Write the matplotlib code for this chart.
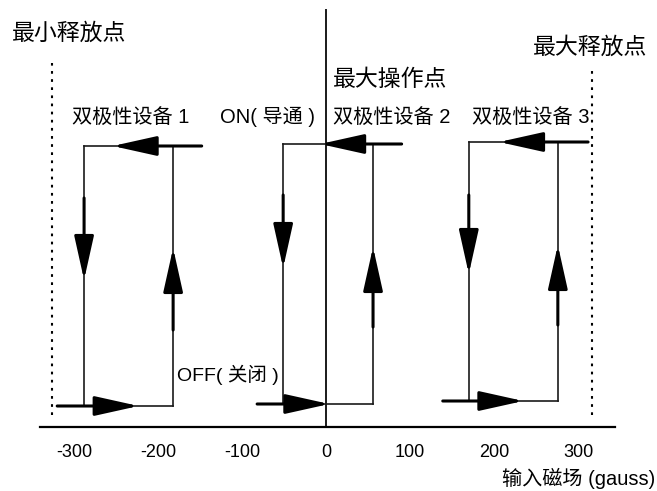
import numpy as np
import matplotlib
matplotlib.use('Agg')
import matplotlib.pyplot as plt

plt.rcParams['font.family'] = ['Liberation Sans', 'Noto Sans CJK SC', 'DejaVu Sans']

# x in gauss, y in arbitrary output units (0 = axis line)
tick_vals = [-300, -200, -100, 0, 100, 200, 300]
tick_labels = ['-300', '-200', '-100', '0', '100', '200', '300']

loop_names = ['双极性设备 1', '双极性设备 2', '双极性设备 3']
loop_left = [-288, -51, 170]
loop_right = [-182, 56, 276]
loop_top_end = [-148, 90, 312]
loop_bot_start = [-320, -82, 139]
on_level = [281, 283, 285]
off_level = [21, 23, 26]

# arrow tips / tails
top_arrow_tip = [-254, -7, 206]
bot_arrow_tip = [-223, 4, 235]
left_arrow_tail = [229, 232, 232]
left_arrow_tip = [147, 159, 153]
right_arrow_tail = [97, 100, 102]
right_arrow_tip = [179, 180, 182]

release_min = -326
release_max = 317
release_top = [364, 359]
zero_line_top = 417

W, H = 657, 491
fig = plt.figure(figsize=(W / 100, H / 100), dpi=100)
ax = fig.add_axes([40 / W, (H - 427) / H, 575 / W, 427 / H])
ax.set_xlim((40 - 326) / 0.84, (615 - 326) / 0.84)
ax.set_ylim(0, 427)
for s in ['top', 'right', 'left']:
	ax.spines[s].set_visible(False)
ax.spines['bottom'].set_linewidth(1.6)
ax.set_yticks([])
ax.set_xticks(tick_vals, tick_labels, fontsize=13)
ax.tick_params(axis='x', length=0, pad=12)
ax.set_xlabel('输入磁场 (gauss)', fontsize=14.5, ha='right')
ax.xaxis.set_label_coords(1.07, -0.095)


def arrow(p_tail, p_tip):
	ax.annotate('', xy=p_tip, xytext=p_tail,
				arrowprops=dict(arrowstyle='-|>,head_length=1.35,head_width=0.3',
								mutation_scale=20, lw=2.2, color='black',
								shrinkA=0, shrinkB=0))


for i in range(3):
	l, r = loop_left[i], loop_right[i]
	on, off = on_level[i], off_level[i]
	ax.plot([l, loop_top_end[i]], [on, on], color='#1a1a1a', lw=1.2)
	ax.plot([loop_bot_start[i], r], [off, off], color='#1a1a1a', lw=1.2)
	ax.plot([l, l], [off, on], color='#1a1a1a', lw=1.2)
	ax.plot([r, r], [off, on], color='#1a1a1a', lw=1.2)
	arrow((loop_top_end[i], on), (top_arrow_tip[i], on))
	arrow((loop_bot_start[i], off), (bot_arrow_tip[i], off))
	arrow((l, left_arrow_tail[i]), (l, left_arrow_tip[i]))
	arrow((r, right_arrow_tail[i]), (r, right_arrow_tip[i]))

ax.plot([0, 0], [0, zero_line_top], color='#1a1a1a', lw=1.4, clip_on=False)
ax.plot([release_min, release_min], [12, release_top[0]], color='black', lw=1.5,
		linestyle=(0, (1.3, 2.6)))
ax.plot([release_max, release_max], [12, release_top[1]], color='black', lw=1.5,
		linestyle=(0, (1.3, 2.6)))

ax.text(-374, 394, '最小释放点', fontsize=16.5, va='center', ha='left')
ax.text(246, 380, '最大释放点', fontsize=16.5, va='center', ha='left')
ax.text(8, 348, '最大操作点', fontsize=16.5, va='center', ha='left')
ax.text(-302, 310, loop_names[0], fontsize=14.5, va='center', ha='left')
ax.text(-126, 310, 'ON( 导通 )', fontsize=14.5, va='center', ha='left')
ax.text(8, 310, loop_names[1], fontsize=14.5, va='center', ha='left')
ax.text(174, 310, loop_names[2], fontsize=14.5, va='center', ha='left')
ax.text(-177, 52, 'OFF( 关闭 )', fontsize=14, va='center', ha='left')

fig.savefig('out.png', dpi=100)
